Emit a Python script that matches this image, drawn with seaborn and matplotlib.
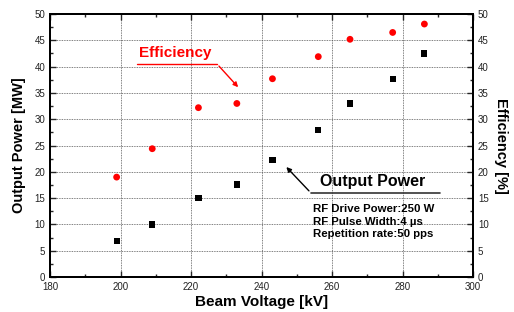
import numpy as np
import pandas as pd
import seaborn as sns
import matplotlib.pyplot as plt
from matplotlib.ticker import MultipleLocator

voltage = [198.9, 209.0, 222.1, 233.0, 243.1, 256.1, 265.1, 277.2, 286.2]
power = [6.8, 10.0, 15.1, 17.6, 22.3, 27.9, 33.0, 37.7, 42.5]
efficiency = [19.0, 24.4, 32.2, 33.0, 37.7, 41.9, 45.2, 46.5, 48.1]
conditions = ['RF Drive Power:250 W', 'RF Pulse Width:4 \u00b5s', 'Repetition rate:50 pps']

df = pd.DataFrame({'voltage': voltage, 'power': power, 'efficiency': efficiency})

sns.set_style('ticks')
plt.rcParams['font.family'] = ['Liberation Sans', 'DejaVu Sans']
plt.rcParams['text.color'] = 'black'
plt.rcParams['axes.labelcolor'] = 'black'

fig = plt.figure(figsize=(5.14, 3.12), dpi=100)
ax = fig.add_axes([0.0973, 0.112, 0.823, 0.843])

sns.scatterplot(data=df, x='voltage', y='power', marker='s', color='black', s=20,
                edgecolor='none', ax=ax, zorder=3)
ax2 = ax.twinx()
sns.scatterplot(data=df, x='voltage', y='efficiency', marker='o', color='red', s=24,
                edgecolor='none', ax=ax2, zorder=3)

for a in (ax, ax2):
    a.set_xlim(180, 300)
    a.set_ylim(0, 50)
    a.yaxis.set_major_locator(MultipleLocator(5))
    a.yaxis.set_minor_locator(MultipleLocator(2.5))
    for s in a.spines.values():
        s.set_linewidth(1.4)
        s.set_color('black')
ax.xaxis.set_major_locator(MultipleLocator(20))
ax.xaxis.set_minor_locator(MultipleLocator(10))
ax.grid(True, which='major', linestyle=(0, (1, 1)), color='#555555', linewidth=0.6)
ax.set_axisbelow(True)

ax.tick_params(which='both', direction='in', top=True, right=False, labelsize=7,
               labelcolor='#222222', width=1)
ax.tick_params(which='major', length=4)
ax.tick_params(which='minor', length=2.5)
ax2.tick_params(which='both', direction='in', labelsize=7, labelcolor='#222222', width=1)
ax2.tick_params(which='major', length=4)
ax2.tick_params(which='minor', length=2.5)

ax.set_xlabel('Beam Voltage [kV]', fontsize=11, fontweight='bold', labelpad=2)
ax.set_ylabel('Output Power [MW]', fontsize=10.5, fontweight='bold', labelpad=6)
ax2.set_ylabel('Efficiency [%]', fontsize=10.5, fontweight='bold', rotation=-90, labelpad=14)

# Efficiency label with underline and arrow
ax.text(205.3, 41.2, 'Efficiency', color='red', fontsize=11, fontweight='bold', va='bottom')
ax.plot([204.7, 227.4], [40.5, 40.5], color='red', lw=1)
ax.annotate('', xy=(233.9, 35.7), xytext=(227.4, 40.5),
            arrowprops=dict(arrowstyle='-|>', color='red', lw=1, mutation_scale=7))

# Output power label with underline and arrow
ax.text(256.5, 16.7, 'Output Power', color='black', fontsize=11.5, fontweight='bold', va='bottom')
ax.plot([254.0, 290.6], [16.0, 16.0], color='#333333', lw=1.2)
ax.annotate('', xy=(246.5, 21.3), xytext=(254.0, 16.0),
            arrowprops=dict(arrowstyle='-|>', color='black', lw=1, mutation_scale=7))

ax.text(254.5, 10.5, '\n'.join(conditions), fontsize=8.2, fontweight='bold',
        va='center', ha='left', linespacing=1.3)

fig.savefig('out.png', dpi=100)
